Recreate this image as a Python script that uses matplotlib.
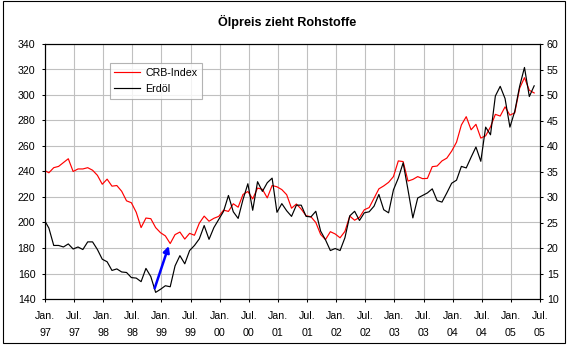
import numpy as np
import matplotlib
matplotlib.use("Agg")
import matplotlib.pyplot as plt
from matplotlib.patches import Rectangle

plt.rcParams['font.family'] = ['Liberation Sans', 'DejaVu Sans']

title = "Ölpreis zieht Rohstoffe"
series_names = ["CRB-Index", "Erdöl"]

# monthly values, Jan 1997 .. Jun 2005
crb = [241, 239, 243, 244, 247, 250, 240, 242, 242, 243, 241, 237,
       230, 234, 228.5, 229, 224.5, 217, 215.5, 208, 196, 203.5, 203, 196,
       192, 189.5, 183.5, 190.5, 192.5, 187, 191.5, 190, 199.5, 205, 201, 203.3,
       204.8, 209.7, 208.7, 214.7, 212, 222, 224.3, 218.5, 227, 226, 219.3, 229,
       228, 225.8, 221.8, 211.2, 214.5, 210.5, 205.3, 204.5, 200, 190.6, 186.6, 192.8,
       191, 188, 193, 205, 201.8, 204, 210, 211.7, 219, 226.4, 228.7, 231.5,
       236, 248.3, 247.8, 232.5, 233.8, 236, 234.4, 234.6, 243.8, 244.3, 248.3, 250.5,
       256, 263, 276.5, 283, 272.7, 277, 266.2, 268, 275, 284.8, 283.5, 290.7,
       284.2, 286, 305.3, 313.6, 303.7, 301.6]

oil = [25.6, 23.9, 20.5, 20.5, 20.2, 20.8, 19.8, 20.2, 19.7, 21.2, 21.2, 19.7,
       17.8, 17.3, 15.6, 15.9, 15.3, 15.2, 14.2, 14.1, 13.4, 16.0, 14.4, 11.3,
       11.9, 12.6, 12.4, 16.5, 18.5, 16.9, 19.5, 20.5, 21.8, 24.4, 21.7, 24.0,
       25.6, 27.2, 30.3, 27.1, 25.8, 29.5, 32.6, 27.4, 33.0, 31.1, 32.8, 33.7,
       27.0, 28.7, 27.3, 26.2, 28.4, 28.4, 26.2, 26.1, 27.2, 23.3, 21.6, 19.5,
       19.9, 19.5, 22.0, 26.3, 27.2, 25.4, 26.9, 27.1, 28.2, 30.5, 27.5, 26.9,
       31.4, 33.7, 36.7, 31.4, 25.9, 29.8, 30.3, 30.8, 31.6, 29.3, 29.0, 30.8,
       32.7, 33.3, 36.0, 35.7, 37.8, 39.8, 37.0, 43.7, 42.2, 49.8, 51.7, 49.3,
       43.7, 46.8, 51.7, 55.4, 49.7, 51.8]

tick_months = ["Jan.", "Jul."] * 9
tick_years = ["97", "97", "98", "98", "99", "99", "00", "00", "01", "01",
              "02", "02", "03", "03", "04", "04", "05", "05"]

left_ticks = list(range(140, 341, 20))
right_ticks = list(range(10, 61, 5))

# arrow (month index, CRB-axis value)
arrow_start = (22.6, 148.4)
arrow_end = (25.5, 181.6)

W, H = 568, 347
fig = plt.figure(figsize=(W / 100, H / 100), dpi=100)
fig.patch.set_facecolor('white')

ax = fig.add_axes([45 / W, 1 - 299 / H, (540 - 45) / W, (299 - 44) / H])
ax2 = ax.twinx()

x = np.arange(len(crb)) - 0.2
ax.plot(x, crb, color='#ff0000', lw=0.85, label=series_names[0])
ax2.plot(np.arange(len(oil)) - 0.2, oil, color='black', lw=0.85, label=series_names[1])

ax.set_xlim(0, 102)
ax.set_ylim(140, 340)
ax2.set_ylim(10, 60)
ax.set_yticks(left_ticks)
ax2.set_yticks(right_ticks)
xt = np.arange(0, 103, 6)
ax.set_xticks(xt)
ax.set_xticklabels([m + "\n" + y for m, y in zip(tick_months, tick_years)])
for lab in ax.get_xticklabels():
    lab.set_linespacing(1.85)

ax.grid(True, color='#c0c0c0', lw=0.8)
ax.set_axisbelow(True)

fs = 7.7
ax.tick_params(axis='y', direction='out', length=2.4, width=0.75, pad=4.5, labelsize=fs)
ax.tick_params(axis='x', direction='out', length=2.4, width=0.75, pad=6.2, labelsize=fs)
ax2.tick_params(axis='y', direction='out', length=2.4, width=0.75, pad=2.5, labelsize=fs)
for a in (ax, ax2):
    for s in a.spines.values():
        s.set_color('black')
        s.set_linewidth(0.8)

ax2.annotate('', xy=arrow_end, xytext=arrow_start,
             xycoords=ax.transData, textcoords=ax.transData,
             arrowprops=dict(arrowstyle='-|>', color='#0000ff', lw=1.8,
                             mutation_scale=9, shrinkA=0, shrinkB=0))

h1, l1 = ax.get_legend_handles_labels()
h2, l2 = ax2.get_legend_handles_labels()
leg = ax2.legend(h1 + h2, l1 + l2, loc='upper left',
                 bbox_to_anchor=(109.5 / W, 1 - 62.7 / H), bbox_transform=fig.transFigure,
                 borderaxespad=0, fontsize=fs, frameon=True, fancybox=False,
                 handlelength=2.4, handletextpad=0.5, borderpad=0.45, labelspacing=0.6)
leg.get_frame().set_edgecolor('#a0a0a0')
leg.get_frame().set_linewidth(0.8)

fig.text(287.5 / W, 1 - 22 / H, title, ha='center', va='center',
         fontsize=9.1, fontweight='bold')

fig.patches.append(Rectangle((2.7 / W, 1 - 343 / H), 562.6 / W, 342 / H,
                             transform=fig.transFigure, fill=False,
                             edgecolor='black', lw=0.8))

fig.savefig('out.png', dpi=100)
